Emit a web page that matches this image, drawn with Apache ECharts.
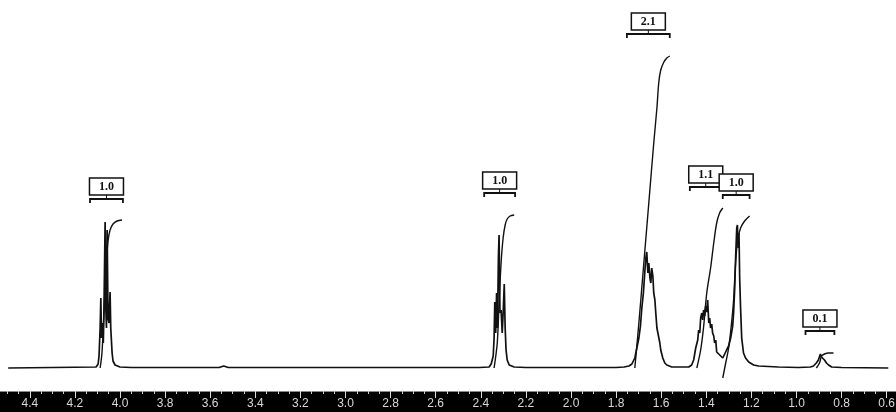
<!DOCTYPE html>
<html>
<head>
<meta charset="utf-8">
<script src="https://cdn.jsdelivr.net/npm/echarts@6.0.0/dist/echarts.min.js"></script>
<style>
  html, body { margin: 0; padding: 0; background: #fff; }
  #chart { width: 896px; height: 412px; }
</style>
</head>
<body>
<div id="chart"></div>
<script>
// chemical shift (ppm) vs. signal height
var spectrum = [
  [4.496, 0], [4.106, 1], [4.097, 4], [4.093, 12], [4.088, 40], [4.085, 70], [4.082, 30],
  [4.077, 45], [4.074, 25], [4.071, 60], [4.066, 146], [4.063, 60], [4.060, 40], [4.057, 138],
  [4.053, 50], [4.049, 45], [4.044, 76], [4.041, 40], [4.035, 15], [4.031, 7], [4.022, 3],
  [4.000, 1], [3.95, 0.5], [3.56, 0.5], [3.54, 2], [3.52, 0.5], [2.407, 0.5],
  [2.363, 1], [2.354, 4], [2.345, 12], [2.341, 30], [2.338, 66], [2.334, 35], [2.330, 75],
  [2.326, 40], [2.322, 110], [2.319, 133], [2.315, 55], [2.310, 58], [2.305, 35], [2.300, 60],
  [2.296, 84], [2.292, 40], [2.288, 18], [2.283, 8], [2.274, 3], [2.252, 1], [2.20, 0.5],
  [1.80, 0.5], [1.765, 1], [1.743, 2], [1.730, 4], [1.717, 10], [1.708, 20], [1.699, 30],
  [1.692, 42], [1.686, 60], [1.679, 75], [1.673, 95], [1.668, 110], [1.664, 116], [1.659, 95],
  [1.655, 105], [1.650, 90], [1.646, 85], [1.642, 100], [1.637, 92], [1.633, 75], [1.628, 68],
  [1.624, 55], [1.619, 40], [1.615, 42], [1.611, 38], [1.606, 25], [1.602, 18], [1.593, 10],
  [1.584, 5], [1.575, 3], [1.553, 1], [1.478, 1],
  [1.465, 3], [1.456, 8], [1.447, 20], [1.438, 28], [1.434, 38], [1.429, 35], [1.425, 50],
  [1.420, 55], [1.416, 48], [1.412, 58], [1.407, 52], [1.403, 62], [1.398, 56], [1.394, 68],
  [1.389, 45], [1.385, 50], [1.381, 40], [1.376, 44], [1.372, 35], [1.367, 32], [1.363, 25],
  [1.358, 28], [1.354, 16], [1.345, 14], [1.336, 12], [1.332, 10], [1.327, 10], [1.319, 12],
  [1.310, 18], [1.301, 22], [1.292, 30], [1.283, 42], [1.279, 55], [1.274, 80], [1.270, 110],
  [1.265, 140], [1.262, 143], [1.259, 120], [1.255, 135], [1.252, 90], [1.248, 60], [1.243, 30],
  [1.235, 15], [1.226, 10], [1.212, 6], [1.190, 3], [1.168, 2], [1.080, 1], [0.991, 0.5],
  [0.938, 1], [0.925, 2], [0.912, 5], [0.903, 8], [0.894, 14], [0.889, 11], [0.885, 13],
  [0.876, 8], [0.867, 5], [0.858, 3], [0.844, 1], [0.80, 0.5], [0.593, 0]
];

// integral traces
var integral1 = [[4.088, 0], [4.080, 15], [4.071, 55], [4.062, 100], [4.053, 127], [4.044, 138], [4.031, 144], [4.013, 147], [3.991, 148]];
var integral2 = [[2.341, 0], [2.327, 25], [2.319, 65], [2.310, 105], [2.301, 130], [2.292, 143], [2.283, 149], [2.270, 152], [2.252, 153]];
var integral3 = [[1.717, 0], [1.699, 45], [1.677, 105], [1.655, 165], [1.633, 225], [1.619, 260], [1.611, 285], [1.602, 298], [1.588, 306], [1.575, 310], [1.562, 312]];
var integral4 = [[1.442, 0], [1.425, 18], [1.412, 41], [1.398, 75], [1.381, 100], [1.367, 125], [1.354, 145], [1.341, 155], [1.327, 160]];
var integral5 = [[1.327, -10], [1.314, 5], [1.301, 20], [1.288, 45], [1.279, 68], [1.270, 105], [1.261, 128], [1.248, 140], [1.230, 147], [1.208, 152]];
var integral6 = [[0.912, 0], [0.898, 5], [0.889, 12], [0.876, 14], [0.858, 15], [0.836, 15]];

// integration labels and their brackets
var integralLabels = ['1.0', '1.0', '2.1', '1.1', '1.0', '0.1'];
var bracketFrom = [4.133, 2.385, 1.752, 1.473, 1.327, 0.960];
var bracketTo = [3.987, 2.248, 1.562, 1.332, 1.208, 0.832];
var bracketLevel = [169, 175, 334, 181, 173, 37];

var tickLabels = ['4.4', '4.2', '4.0', '3.8', '3.6', '3.4', '3.2', '3.0', '2.8', '2.6', '2.4', '2.2', '2.0', '1.8', '1.6', '1.4', '1.2', '1.0', '0.8', '0.6'];

var ink = '#111';

var chart = echarts.init(document.getElementById('chart'));

var integrals = [integral1, integral2, integral3, integral4, integral5, integral6];
var series = [{
  type: 'line',
  data: spectrum,
  symbol: 'none',
  lineStyle: { color: ink, width: 1.7 },
  z: 3
}];
integrals.forEach(function (d) {
  series.push({
    type: 'line',
    data: d,
    symbol: 'none',
    smooth: 0.3,
    lineStyle: { color: ink, width: 1.4 },
    z: 3
  });
});

series.push({
  type: 'custom',
  data: bracketFrom.map(function (v, i) {
    return [v, bracketTo[i], bracketLevel[i]];
  }),
  z: 5,
  renderItem: function (params, api) {
    var l = api.coord([api.value(0), api.value(2)]);
    var r = api.coord([api.value(1), api.value(2)]);
    var cx = (l[0] + r[0]) / 2;
    var y = l[1];
    return {
      type: 'group',
      children: [
        {
          type: 'polyline',
          shape: { points: [[l[0], y + 4], [l[0], y], [r[0], y], [r[0], y + 4]] },
          style: { stroke: ink, lineWidth: 1.8, fill: null }
        },
        {
          type: 'line',
          shape: { x1: cx, y1: y, x2: cx, y2: y - 4 },
          style: { stroke: ink, lineWidth: 1 }
        },
        {
          type: 'rect',
          shape: { x: cx - 17, y: y - 21, width: 34, height: 17 },
          style: { fill: '#fff', stroke: ink, lineWidth: 1.5 }
        },
        {
          type: 'text',
          style: {
            text: integralLabels[params.dataIndex],
            x: cx, y: y - 12,
            align: 'center', verticalAlign: 'middle',
            font: 'bold 12px "Liberation Serif"',
            fill: ink
          }
        }
      ]
    };
  }
});

chart.setOption({
  animation: false,
  backgroundColor: '#fff',
  grid: { left: -15.3, right: -35.8, top: 0, bottom: 21, containLabel: false, outerBoundsMode: 'none' },
  xAxis: {
    type: 'value',
    inverse: true,
    min: 0.4,
    max: 4.6,
    interval: 0.2,
    axisLine: { onZero: false, lineStyle: { color: '#888', width: 1 } },
    axisTick: { length: 7, lineStyle: { color: '#ddd', width: 1 } },
    minorTick: { show: true, splitNumber: 4, length: 3, lineStyle: { color: '#ccc', width: 1 } },
    splitLine: { show: false },
    axisLabel: {
      color: '#d8d8d8',
      fontSize: 12,
      fontFamily: 'Liberation Sans',
      margin: 7,
      formatter: function (v) {
        var s = v.toFixed(1);
        return tickLabels.indexOf(s) >= 0 ? s : '';
      }
    }
  },
  yAxis: { type: 'value', min: -23, max: 368, show: false },
  graphic: {
    elements: [{
      type: 'rect',
      z: -10,
      silent: true,
      shape: { x: 0, y: 391, width: 896, height: 21 },
      style: { fill: '#000' }
    }]
  },
  series: series
});
</script>
</body>
</html>
